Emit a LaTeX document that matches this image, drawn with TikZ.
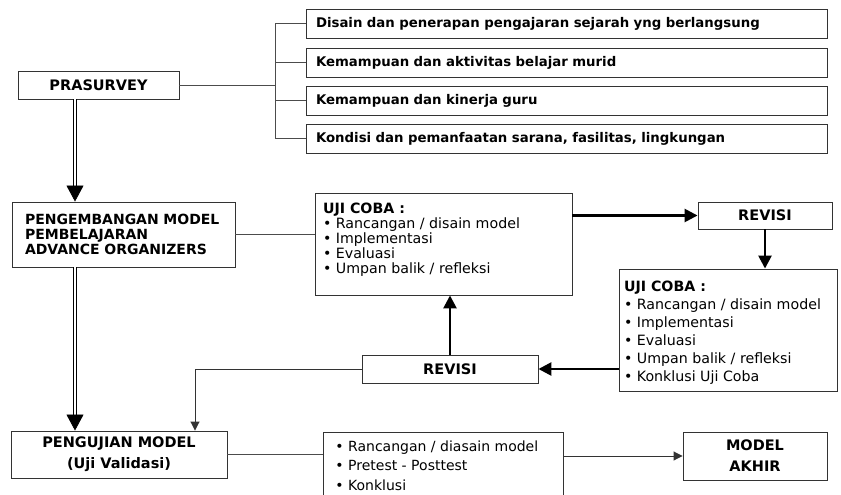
\documentclass[tikz,border=0pt]{standalone}
\usepackage{fontspec}
\setmainfont{DejaVu Sans}
\usetikzlibrary{positioning}
\usetikzlibrary{calc}
\usetikzlibrary{arrows.meta}

\newcommand{\cellbox}[3]{\parbox[c][#2][t]{#1}{\raggedright #3}}

\begin{document}
\begin{tikzpicture}[
    x=1pt, y=-1pt,
    box/.style={draw=black!80, line width=0.9pt, inner sep=0pt, font=\fontsize{14.2}{15}\selectfont},
    head/.style={box, font=\fontsize{14.5}{15}\selectfont\bfseries, align=center},
    item/.style={box, font=\fontsize{13.3}{15}\selectfont\bfseries, inner xsep=10pt, text width=501pt, minimum height=29pt, align=left},
    conn/.style={draw=black!70, line width=0.9pt},
    loopar/.style={-{Triangle[width=13pt,length=13pt]}, line width=2.6pt, black},
    thinar/.style={-{Triangle[width=9pt,length=9pt]}, line width=0.9pt, black!80},
    dblar/.style={-{Triangle[width=17pt,length=16pt]}, double, double distance=2pt, line width=0.8pt}
]
    \useasboundingbox (0,0) rectangle (841,495);

    % --- Prasurvey ---
    \node[head, minimum width=161pt, minimum height=28pt] (pra) at (98.5,85) {PRASURVEY};
    \foreach \name/\y/\txt in {t1/23.5/{Disain dan penerapan pengajaran sejarah yng berlangsung},
                               t2/62.5/{Kemampuan dan aktivitas belajar murid},
                               t3/100.5/{Kemampuan dan kinerja guru},
                               t4/138.5/{Kondisi dan pemanfaatan sarana, fasilitas, lingkungan}} {
        \node[item] (\name) at (566.5,\y) {\txt};
    }
    \coordinate (fork) at (275,85);
    \draw[conn] (pra.east) -- (fork);
    \draw[conn] (t1.west -| fork) -- (t4.west -| fork);
    \foreach \name in {t1,t2,t3,t4} {
        \draw[conn] (\name.west -| fork) -- (\name.west);
    }

    % --- Pengembangan model ---
    \node[box, font=\fontsize{14}{15}\selectfont\bfseries, inner xsep=13pt, text width=197pt,
          minimum height=65pt, align=left] (dev) at (123.5,234.5)
          {PENGEMBANGAN MODEL\\PEMBELAJARAN\\ADVANCE ORGANIZERS};
    \node[box, inner xsep=8pt, inner ysep=6pt] (uji1) at (443.5,244)
          {\cellbox{241pt}{90pt}{\vspace*{4pt}\textbf{UJI COBA :}\\• Rancangan / disain model\\• Implementasi\\• Evaluasi\\• Umpan balik / refleksi}};
    \node[head, minimum width=134pt, minimum height=27pt] (rev1) at (765,215.5) {REVISI};
    \node[box, inner xsep=5pt, inner ysep=6pt] (uji2) at (728,330)
          {\cellbox{208pt}{110pt}{\fontsize{14.2}{18}\selectfont\vspace*{6pt}\textbf{UJI COBA :}\\• Rancangan / disain model\\• Implementasi\\• Evaluasi\\• Umpan balik / refleksi\\• Konklusi Uji Coba}};
    \node[head, minimum width=176pt, minimum height=28pt] (rev2) at (450,369) {REVISI};

    \draw[conn] (dev.east) -- (uji1.west |- dev.east);
    \draw[loopar] (uji1.east |- rev1.west) -- (rev1.west);
    \draw[loopar] (rev1.south) -- (uji2.north -| rev1.south);
    \draw[loopar] (uji2.west |- rev2.east) -- (rev2.east);
    \draw[loopar] (rev2.north) -- (uji1.south -| rev2.north);

    % --- Pengujian model ---
    \node[head, minimum width=216pt, minimum height=47pt, font=\fontsize{14.5}{21}\selectfont\bfseries]
          (test) at (119,454.5) {PENGUJIAN MODEL\\(Uji Validasi)};
    \node[box, anchor=north west, inner xsep=12pt, inner ysep=6pt] (mid) at (323,432)
          {\cellbox{216pt}{70pt}{\fontsize{14}{19.5}\selectfont\vspace*{2pt}• Rancangan / diasain model\\• Pretest - Posttest\\• Konklusi}};
    \node[head, minimum width=144pt, minimum height=48pt, font=\fontsize{14.5}{21}\selectfont\bfseries]
          (fin) at (755,456) {MODEL\\AKHIR};

    \coordinate (spine) at (75,0);
    \coordinate (drop) at (195,0);
    \draw[dblar] (pra.south -| spine) -- (dev.north -| spine);
    \draw[dblar] (dev.south -| spine) -- (test.north -| spine);
    \draw[thinar] (rev2.west) -| (test.north -| drop);
    \draw[conn] (test.east) -- (mid.west |- test.east);
    \draw[thinar] (mid.east |- fin.west) -- (fin.west);
\end{tikzpicture}
\end{document}
